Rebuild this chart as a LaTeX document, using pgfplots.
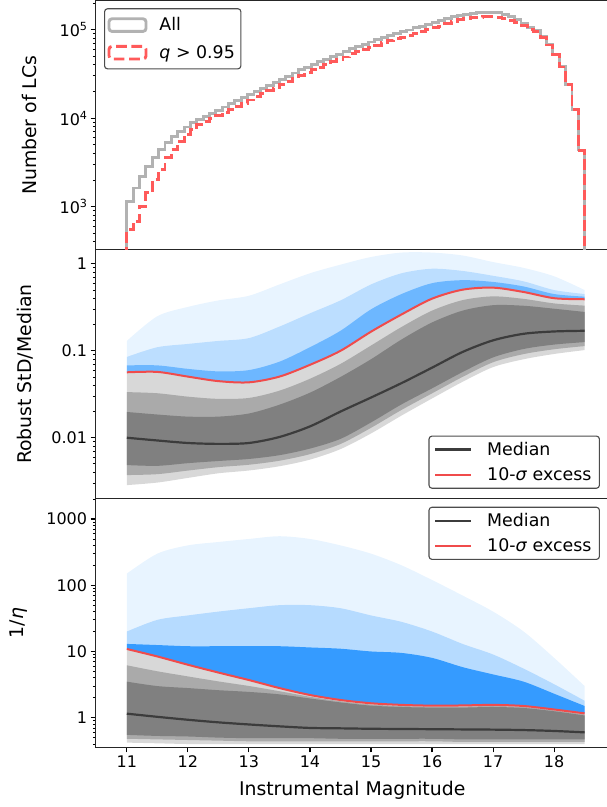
\documentclass[border=0pt]{standalone}
\usepackage{fontspec}
\setmainfont{DejaVu Sans}
\usepackage{pgfplots}
\pgfplotsset{compat=1.18}
\usepackage{pgfplotstable}
\usepgfplotslibrary{fillbetween}

\definecolor{histgray}{RGB}{178,178,178}
\definecolor{histred}{RGB}{255,90,90}
\definecolor{cloudcore}{RGB}{128,128,128}
\definecolor{cloudmid}{RGB}{170,170,170}
\definecolor{cloudlight}{RGB}{216,216,216}
\definecolor{outlier}{RGB}{30,144,255}
\definecolor{medline}{RGB}{60,60,60}
\definecolor{excess}{RGB}{240,75,75}

% magnitude histogram: left bin edge, all light curves, q > 0.95
\pgfplotstableread{
lo all q
11.000 1 1
11.000 1148 550
11.104 1622 682
11.208 2168 1000
11.313 2851 1429
11.417 3548 2018
11.521 4406 2618
11.625 5248 3548
11.729 6223 4406
11.833 7079 5470
11.938 7943 6457
12.042 8831 7413
12.146 9550 8453
12.250 10471 9120
12.354 11350 9886
12.458 12303 10716
12.563 13335 11615
12.667 14454 12589
12.771 15668 13647
12.875 16982 14791
12.979 18408 16033
13.083 19953 17379
13.188 21627 18837
13.292 23442 20418
13.396 25119 21879
13.500 27542 23989
13.604 29854 26003
13.708 32359 28185
13.813 35075 30550
13.917 37584 32736
14.021 40272 35077
14.125 43152 37585
14.229 46238 40273
14.333 49545 43154
14.438 52481 45711
14.542 56234 48980
14.646 60954 53091
14.750 64565 56236
14.854 68391 59569
14.958 72444 63099
15.063 76736 66837
15.167 81283 70798
15.271 86099 74992
15.375 90157 78527
15.479 94406 82228
15.583 98855 86103
15.688 104713 91205
15.792 109648 95503
15.896 114815 100004
16.000 120226 104717
16.104 125893 109653
16.208 133352 116150
16.313 139637 124417
16.417 144544 128789
16.521 149624 133315
16.625 153109 136420
16.729 154882 138000
16.833 156675 139597
16.938 157036 139919
17.042 154882 138000
17.146 149624 133315
17.250 139637 127349
17.354 128825 120194
17.458 117490 112203
17.563 104713 101153
17.667 96605 94383
17.771 83176 82261
17.875 67608 67000
17.979 52481 52000
18.083 38019 37800
18.188 23988 23900
18.292 12589 12550
18.396 4365 4350
18.500 4365 4350
18.500 1 1
}\histtab

% robust scatter: 10-sigma line, median, cloud envelopes, outlier envelopes
\pgfplotstableread{
m red med ctop cbot fbot umid lmid bden bmid btop
11.0 0.0566 0.0100 0.0198 0.00485 0.00285 0.0335 0.00372 0.068 0.085 0.13
11.5 0.0572 0.0093 0.0185 0.00475 0.00305 0.0325 0.00381 0.068 0.11 0.25
12.0 0.0505 0.0087 0.0175 0.0051 0.00345 0.0297 0.00419 0.062 0.12 0.32
12.5 0.0448 0.0085 0.0175 0.0054 0.0039 0.0280 0.00459 0.058 0.13 0.38
13.0 0.0434 0.0087 0.0190 0.0057 0.0042 0.0287 0.00489 0.060 0.14 0.43
13.5 0.0505 0.0102 0.0240 0.0063 0.0047 0.0348 0.00544 0.075 0.19 0.58
14.0 0.0690 0.0135 0.0330 0.0075 0.0056 0.0477 0.00648 0.11 0.27 0.78
14.5 0.100 0.0200 0.0500 0.0097 0.0074 0.0707 0.00847 0.17 0.38 0.98
15.0 0.166 0.0290 0.0800 0.0150 0.0112 0.115 0.0130 0.30 0.58 1.2
15.5 0.262 0.0425 0.135 0.0242 0.0180 0.188 0.0209 0.45 0.78 1.35
16.0 0.398 0.0640 0.212 0.0370 0.0283 0.290 0.0324 0.60 0.88 1.35
16.5 0.505 0.0970 0.290 0.0570 0.0440 0.383 0.0501 0.65 0.83 1.25
17.0 0.533 0.1320 0.335 0.0840 0.0650 0.423 0.0739 0.62 0.73 1.05
17.5 0.475 0.1570 0.330 0.105 0.0800 0.396 0.0917 0.55 0.63 0.9
18.0 0.403 0.1670 0.305 0.118 0.092 0.351 0.1042 0.45 0.50 0.72
18.5 0.392 0.1700 0.280 0.126 0.102 0.331 0.1134 0.42 0.45 0.50
}\midtab

% 1/eta scatter: same columns
\pgfplotstableread{
m red med ctop cbot fbot umid lmid bden bmid btop
11.0 10.9 1.15 3.5 0.55 0.42 6.18 0.48 13 20 150
11.5 8.4 1.03 3.0 0.53 0.41 5.02 0.47 12.5 30 300
12.0 6.3 0.93 2.8 0.52 0.40 4.2 0.46 12 35 400
12.5 4.8 0.85 2.6 0.50 0.40 3.53 0.45 12 40 450
13.0 3.7 0.79 2.45 0.49 0.40 3.01 0.44 12 45 500
13.5 2.8 0.74 2.25 0.49 0.40 2.51 0.44 12 50 550
14.0 2.2 0.70 1.95 0.49 0.40 2.07 0.44 11.5 50 500
14.5 1.85 0.69 1.70 0.48 0.40 1.77 0.44 11 45 400
15.0 1.65 0.68 1.52 0.48 0.40 1.58 0.44 10 35 300
15.5 1.56 0.675 1.45 0.48 0.40 1.50 0.44 9.5 28 200
16.0 1.52 0.67 1.42 0.48 0.40 1.47 0.44 8 20 120
16.5 1.53 0.665 1.42 0.47 0.40 1.47 0.43 5.8 13 70
17.0 1.56 0.66 1.45 0.47 0.40 1.50 0.43 4.5 9 40
17.5 1.50 0.65 1.40 0.47 0.40 1.45 0.43 3.5 5.5 20
18.0 1.33 0.63 1.25 0.47 0.40 1.29 0.43 2.3 3.2 8
18.5 1.16 0.60 1.08 0.47 0.40 1.12 0.43 1.5 1.8 3
}\bottab

\pgfplotsset{
  magpanel/.style={
    scale only axis, width=513pt, height=248.8pt,
    xmin=10.49, xmax=18.894,
    tick align=outside,
    xtick pos=bottom, ytick pos=left,
    major tick length=5.1pt, minor tick length=2.9pt,
    major tick style={line width=1.16pt, black},
    minor tick style={line width=0.87pt, black},
    axis line style={line width=1.16pt, black!85},
    tick label style={font=\fontsize{16}{19}\selectfont},
    label style={font=\fontsize{18.85}{22}\selectfont},
    /pgf/number format/assume math mode=true,
    legend cell align=left,
    legend image code/.code={\draw[#1] (0pt,0pt) -- (36pt,0pt);},
    legend style={font=\fontsize{17.4}{20}\selectfont, draw=black!70,
      rounded corners=3pt, line width=1.1pt, inner xsep=5pt, inner ysep=3pt,
      row sep=5pt, nodes={inner sep=3pt},
      /tikz/every odd column/.append style={column sep=12pt}},
  },
  % envelope curves used only as fill boundaries
  envelope/.style={draw=none, smooth, forget plot},
}

\begin{document}
\begin{tikzpicture}

% ---------- bottom: 1/eta ----------
\begin{axis}[magpanel, ymode=log, at={(95.7pt,59.7pt)}, anchor=south west,
  ymin=0.357, ymax=2042,
  xtick={11,12,13,14,15,16,17,18},
  xticklabels={11,12,13,14,15,16,17,18},
  ytick={1,10,100,1000}, yticklabels={1,10,100,1000},
  minor ytick={0.4,0.5,0.6,0.7,0.8,0.9,2,3,4,5,6,7,8,9,20,30,40,50,60,70,80,90,200,300,400,500,600,700,800,900,2000},
  xlabel={Instrumental Magnitude},
  xlabel style={at={(axis description cs:0.5,-0.1957)}, anchor=base},
  ylabel={1/\textit{η}},
  ylabel style={at={(axis description cs:-0.1417,0.5)}, anchor=base},
  legend style={at={(axis description cs:0.983,0.967)}, anchor=north east},
]
\addplot[envelope, name path=bRed] table[x=m, y=red]{\bottab};
\addplot[envelope, name path=bFb] table[x=m, y=fbot]{\bottab};
\addplot[envelope, name path=bCt] table[x=m, y=ctop]{\bottab};
\addplot[envelope, name path=bCb] table[x=m, y=cbot]{\bottab};
\addplot[envelope, name path=bUm] table[x=m, y=umid]{\bottab};
\addplot[envelope, name path=bLm] table[x=m, y=lmid]{\bottab};
\addplot[envelope, name path=bBd] table[x=m, y=bden]{\bottab};
\addplot[envelope, name path=bBm] table[x=m, y=bmid]{\bottab};
\addplot[envelope, name path=bBt] table[x=m, y=btop]{\bottab};
\addplot[cloudlight, forget plot] fill between[of=bRed and bFb];
\addplot[cloudmid, forget plot] fill between[of=bUm and bLm];
\addplot[cloudcore, forget plot] fill between[of=bCt and bCb];
\addplot[outlier, fill opacity=0.1, forget plot] fill between[of=bBt and bRed];
\addplot[outlier, fill opacity=0.25, forget plot] fill between[of=bBm and bRed];
\addplot[outlier, fill opacity=0.85, forget plot] fill between[of=bBd and bRed];
\addplot[medline, line width=2.2pt, smooth, forget plot] table[x=m, y=med]{\bottab};
\addplot[excess, line width=2pt, smooth, forget plot] table[x=m, y=red]{\bottab};
\addlegendimage{medline, line width=2.2pt}
\addlegendentry{Median}
\addlegendimage{excess, line width=2pt}
\addlegendentry{10-\textit{σ} excess}
\end{axis}

% ---------- middle: robust std / median ----------
\begin{axis}[magpanel, ymode=log, at={(95.7pt,308.5pt)}, anchor=south west,
  ymin=0.002, ymax=1.457,
  xtick=\empty,
  ytick={0.01,0.1,1}, yticklabels={0.01,0.1,1},
  minor ytick={0.003,0.004,0.005,0.006,0.007,0.008,0.009,0.02,0.03,0.04,0.05,0.06,0.07,0.08,0.09,0.2,0.3,0.4,0.5,0.6,0.7,0.8,0.9},
  ylabel={Robust StD/Median},
  ylabel style={at={(axis description cs:-0.1261,0.5)}, anchor=base},
  legend style={at={(axis description cs:0.983,0.039)}, anchor=south east},
]
\addplot[envelope, name path=mRed] table[x=m, y=red]{\midtab};
\addplot[envelope, name path=mFb] table[x=m, y=fbot]{\midtab};
\addplot[envelope, name path=mCt] table[x=m, y=ctop]{\midtab};
\addplot[envelope, name path=mCb] table[x=m, y=cbot]{\midtab};
\addplot[envelope, name path=mUm] table[x=m, y=umid]{\midtab};
\addplot[envelope, name path=mLm] table[x=m, y=lmid]{\midtab};
\addplot[envelope, name path=mBd] table[x=m, y=bden]{\midtab};
\addplot[envelope, name path=mBm] table[x=m, y=bmid]{\midtab};
\addplot[envelope, name path=mBt] table[x=m, y=btop]{\midtab};
\addplot[cloudlight, forget plot] fill between[of=mRed and mFb];
\addplot[cloudmid, forget plot] fill between[of=mUm and mLm];
\addplot[cloudcore, forget plot] fill between[of=mCt and mCb];
\addplot[outlier, fill opacity=0.1, forget plot] fill between[of=mBt and mRed];
\addplot[outlier, fill opacity=0.22, forget plot] fill between[of=mBm and mRed];
\addplot[outlier, fill opacity=0.5, forget plot] fill between[of=mBd and mRed];
\addplot[medline, line width=2.2pt, smooth, forget plot] table[x=m, y=med]{\midtab};
\addplot[excess, line width=2pt, smooth, forget plot] table[x=m, y=red]{\midtab};
\addlegendimage{medline, line width=2.2pt}
\addlegendentry{Median}
\addlegendimage{excess, line width=2pt}
\addlegendentry{10-\textit{σ} excess}
\end{axis}

% ---------- top: histogram ----------
\begin{axis}[magpanel, ymode=log, at={(95.7pt,557.3pt)}, anchor=south west,
  ymin=326, ymax=211000,
  xtick=\empty,
  ytick={1000,10000,100000},
  yticklabels={10\raisebox{6pt}{\fontsize{11.2}{12}\selectfont 3},10\raisebox{6pt}{\fontsize{11.2}{12}\selectfont 4},10\raisebox{6pt}{\fontsize{11.2}{12}\selectfont 5}},
  minor ytick={400,500,600,700,800,900,2000,3000,4000,5000,6000,7000,8000,9000,20000,30000,40000,50000,60000,70000,80000,90000,200000},
  ylabel={Number of LCs},
  ylabel style={at={(axis description cs:-0.115,0.5)}, anchor=base},
  legend image code/.code={\draw[#1] (0pt,-6.3pt) rectangle (37pt,6.3pt);},
  legend style={at={(axis description cs:0.0162,0.9707)}, anchor=north west,
    inner xsep=3pt, inner ysep=6pt, row sep=7pt,
    /tikz/every odd column/.append style={column sep=9pt}},
]
\addplot[histgray, line width=2.9pt, const plot mark left, forget plot] table[x=lo, y=all]{\histtab};
\addplot[histred, line width=2.9pt, dash pattern=on 10.7pt off 4.6pt, const plot mark left, forget plot] table[x=lo, y=q]{\histtab};
\addlegendimage{histgray, line width=2.9pt}
\addlegendentry{All}
\addlegendimage{histred, line width=2.9pt, dash pattern=on 10.7pt off 4.6pt}
\addlegendentry{\textit{q} > 0.95}
\end{axis}

\pgfresetboundingbox
\useasboundingbox (0,0) rectangle (606pt,807pt);
\end{tikzpicture}
\end{document}
